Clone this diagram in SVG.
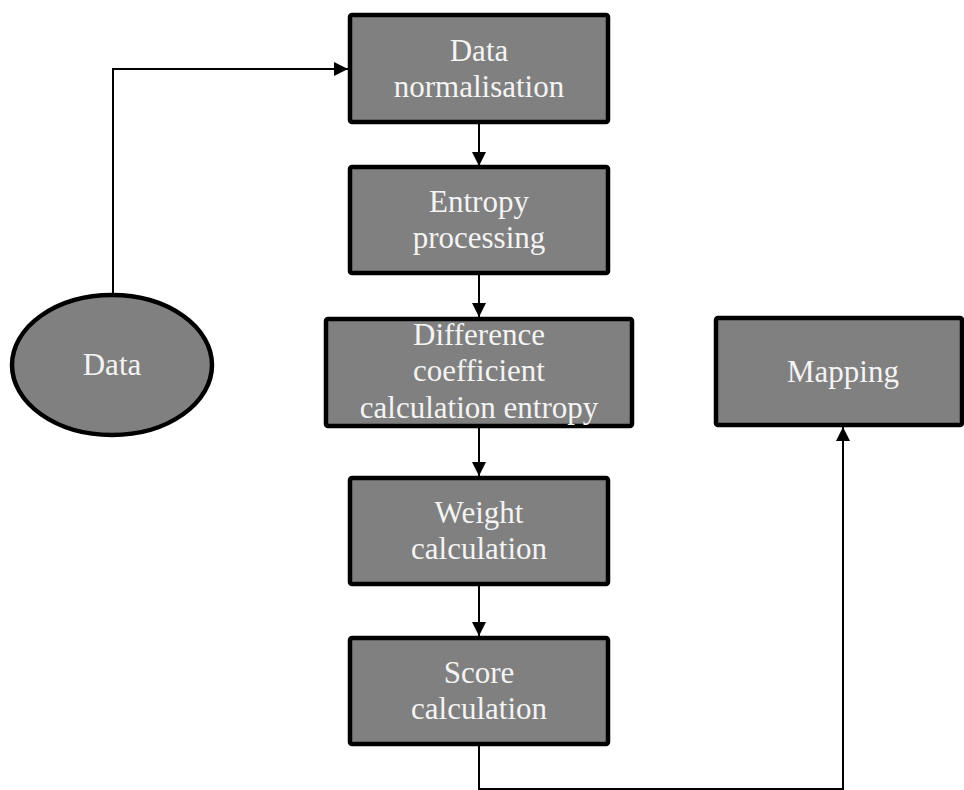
<svg xmlns="http://www.w3.org/2000/svg" width="964" height="790" viewBox="0 0 964 790">
<style>
.n{fill:#808080;stroke:#000;stroke-width:4.5}
.t{font-family:"Liberation Serif","Times New Roman",serif;font-size:31px;fill:#f4f4f4;text-anchor:middle}
.c{fill:none;stroke:#000;stroke-width:2}
</style>
<defs>
<marker id="ah" viewBox="0 0 10 10" refX="10" refY="5" markerWidth="14" markerHeight="14" orient="auto" markerUnits="userSpaceOnUse">
<path d="M0,0L10,5L0,10z" fill="#000"/>
</marker>
</defs>
<rect width="964" height="790" fill="#fff"/>
<g id="connectors">
<path class="c" d="M113,295V69H348" marker-end="url(#ah)"/>
<path class="c" d="M479,122V166" marker-end="url(#ah)"/>
<path class="c" d="M479,273V317" marker-end="url(#ah)"/>
<path class="c" d="M479,427V476" marker-end="url(#ah)"/>
<path class="c" d="M479,584V636" marker-end="url(#ah)"/>
<path class="c" d="M479,744V789H843V427" marker-end="url(#ah)"/>
</g>
<g id="data">
<ellipse class="n" cx="112" cy="365" rx="100" ry="70"/>
<text class="t" x="112" y="375">Data</text>
</g>
<g id="normalisation">
<rect class="n" x="350" y="15" width="258" height="107" rx="2"/>
<text class="t" x="479" y="61">Data</text>
<text class="t" x="479" y="97">normalisation</text>
</g>
<g id="entropy">
<rect class="n" x="350" y="167" width="258" height="106" rx="2"/>
<text class="t" x="479" y="212">Entropy</text>
<text class="t" x="479" y="248">processing</text>
</g>
<g id="difference">
<rect class="n" x="326" y="319" width="306" height="107" rx="2"/>
<text class="t" x="479" y="345">Difference</text>
<text class="t" x="479" y="381">coefficient</text>
<text class="t" x="479" y="418">calculation entropy</text>
</g>
<g id="mapping">
<rect class="n" x="716" y="318" width="246" height="107" rx="2"/>
<text class="t" x="843" y="382">Mapping</text>
</g>
<g id="weight">
<rect class="n" x="350" y="478" width="258" height="106" rx="2"/>
<text class="t" x="479" y="523">Weight</text>
<text class="t" x="479" y="559">calculation</text>
</g>
<g id="score">
<rect class="n" x="350" y="638" width="258" height="106" rx="2"/>
<text class="t" x="479" y="683">Score</text>
<text class="t" x="479" y="719">calculation</text>
</g>
</svg>
